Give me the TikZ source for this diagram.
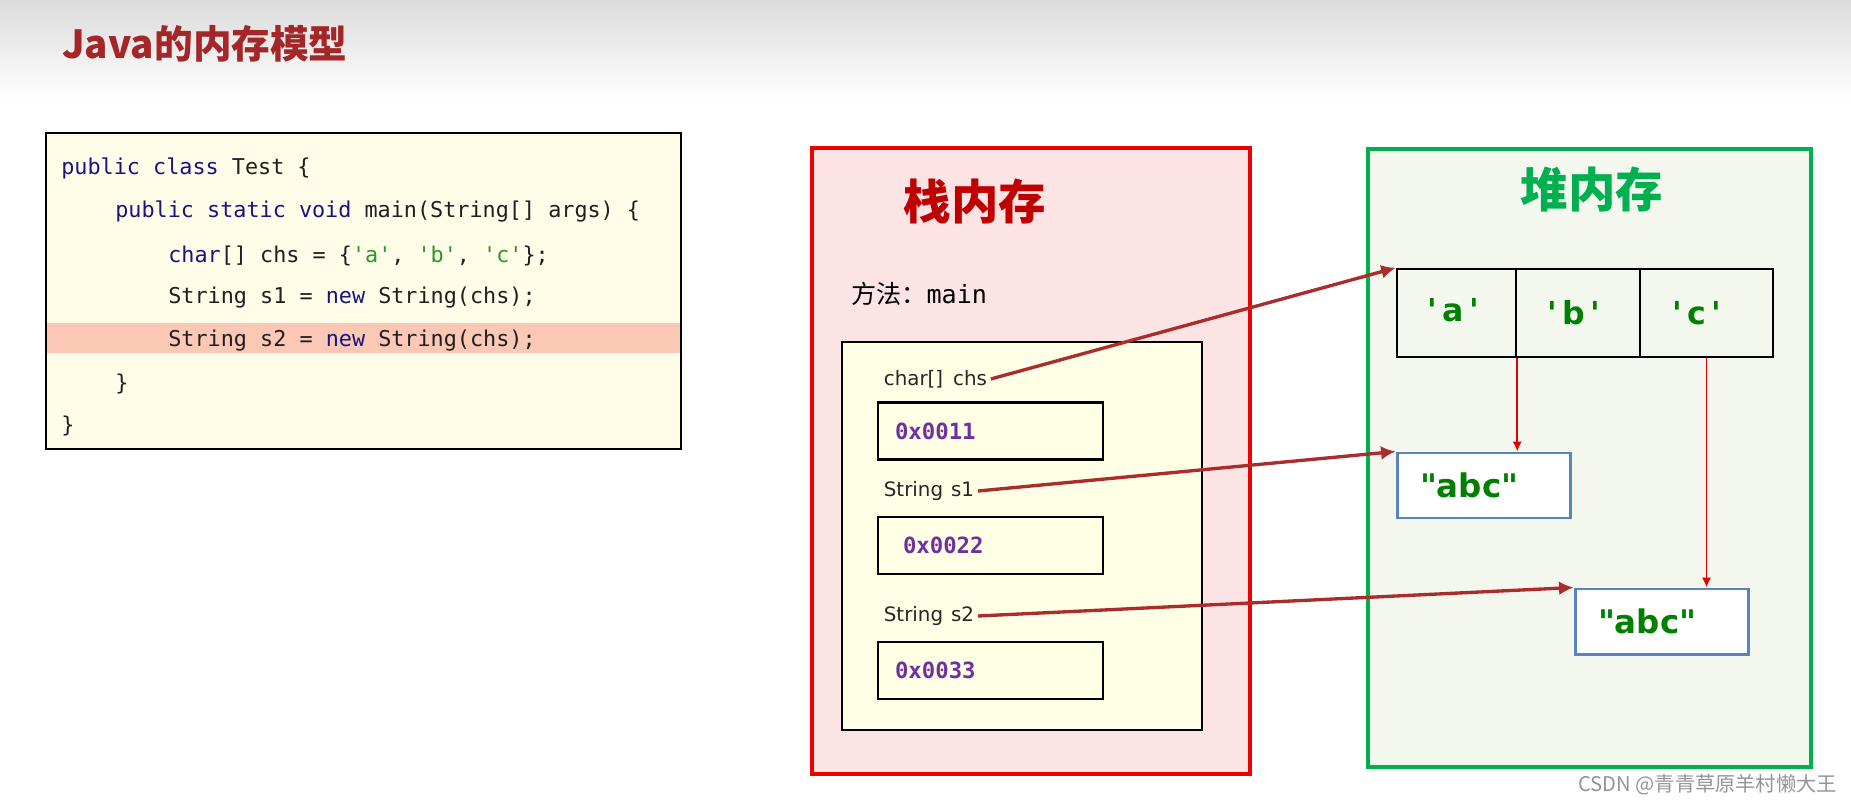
\documentclass[tikz,border=0pt]{standalone}
\usepackage{fontspec}
\setmainfont{DejaVu Sans}
\setmonofont{DejaVu Sans Mono}
\newfontfamily\cjk{Noto Sans CJK SC}
\newfontfamily\plainsans{DejaVu Sans}[Ligatures=TeXOff]
\usetikzlibrary{positioning,arrows.meta,calc}
\definecolor{titlered}{RGB}{165,38,40}
\definecolor{kwblue}{RGB}{22,22,130}
\definecolor{codegreen}{RGB}{40,150,40}
\definecolor{codefill}{RGB}{255,253,232}
\definecolor{hlband}{RGB}{250,200,180}
\definecolor{stackred}{RGB}{236,0,0}
\definecolor{stackfill}{RGB}{253,228,228}
\definecolor{stacktitle}{RGB}{192,0,0}
\definecolor{heapgreen}{RGB}{0,176,80}
\definecolor{heapfill}{RGB}{243,247,238}
\definecolor{framefill}{RGB}{255,255,230}
\definecolor{valpurple}{RGB}{112,48,160}
\definecolor{chargreen}{RGB}{0,128,0}
\definecolor{boxblue}{RGB}{90,130,190}
\definecolor{arrowbrown}{RGB}{170,44,44}
\definecolor{linkred}{RGB}{228,0,0}
\newcommand{\sqt}{\symbol{39}}
\newcommand{\dqt}{\symbol{34}}
\newcommand{\jkw}[1]{\textcolor{kwblue}{#1}}
\newcommand{\jstr}[1]{\textcolor{codegreen}{#1}}
\tikzset{
  ptrarrow/.style={-{Latex[length=2.9mm,width=2.8mm]}, line width=1.9pt, draw=arrowbrown},
  linkarrow/.style={-{Latex[length=2mm,width=1.9mm]}, line width=1.1pt, draw=linkred},
  codebox/.style={draw, line width=1.1pt, fill=codefill, minimum width=127mm, minimum height=63.2mm},
  codeline/.style={anchor=west, inner sep=0pt, text=black!88, font=\ttfamily\fontsize{12.4}{14}\selectfont},
  membox/.style={line width=2.7pt, minimum height=125mm},
  memtitle/.style={font=\cjk\bfseries\fontsize{27}{30}\selectfont},
  framebox/.style={draw, line width=0.9pt, fill=framefill, minimum width=72mm, minimum height=77.6mm},
  varlabel/.style={anchor=west, inner sep=2pt, text=black!85, font=\fontsize{11.3}{13}\selectfont},
  valbox/.style={draw, line width=1.6pt, fill=framefill, text width=38.2mm, inner xsep=3.4mm, minimum height=11.4mm, align=left, text=valpurple, font=\ttfamily\bfseries\fontsize{12.7}{14}\selectfont},
  cellbox/.style={draw, line width=1.4pt, minimum height=17.6mm, text=chargreen, font=\plainsans\bfseries\fontsize{18}{20}\selectfont},
  strbox/.style={draw=boxblue, line width=1.7pt, fill=white, minimum width=34.6mm, minimum height=13mm, text width=25.4mm, inner xsep=4.6mm, align=left, text=chargreen, font=\plainsans\bfseries\fontsize{18.5}{20}\selectfont}
}

\begin{document}
\begin{tikzpicture}[x=0.2mm, y=-0.2mm]
  \useasboundingbox (0,0) rectangle (1851,805);
  % header band and title
  \shade[top color=black!14, bottom color=white] (0,0) rectangle (1851,100);
  \node[anchor=west, text=titlered, font=\cjk\bfseries\fontsize{22}{25}\selectfont] (title) at (56,44) {Java的内存模型};

  % source code
  \node[codebox] (code) at (363.5,291) {};
  \node[fill=hlband, inner sep=0pt, minimum width=126.6mm, minimum height=6mm] (hl) at (363.5,338) {};
  \node[codeline] (c1) at (61,168) {\jkw{public class} Test \{};
  \node[codeline] (c2) at (115,212) {\jkw{public static void} main(String[] args) \{};
  \node[codeline] (c3) at (168,256) {\jkw{char}[] chs = \{\jstr{\sqt a\sqt}, \jstr{\sqt b\sqt}, \jstr{\sqt c\sqt}\};};
  \node[codeline] (c4) at (168,298) {String s1 = \jkw{new} String(chs);};
  \node[codeline] (c5) at (168,341) {String s2 = \jkw{new} String(chs);};
  \node[codeline] (c6) at (115,384) {\}};
  \node[codeline] (c7) at (61,426) {\}};

  % stack memory
  \node[membox, draw=stackred, fill=stackfill, minimum width=87.6mm, minimum height=125.2mm] (stack) at (1031,461) {};
  \node[memtitle, text=stacktitle] (stacktitle) at (975,201) {栈内存};
  \node[anchor=west, font=\fontsize{14.3}{16}\selectfont] (method) at (845,294) {{\cjk 方法：}\texttt{main}};
  \node[framebox] (frame) at (1022,536) {};
  \node[varlabel] (lchs) at (880,379) {char[]\hspace{0.5em}chs};
  \node[valbox] (v1) at (990.5,431) {0x0011};
  \node[varlabel] (ls1) at (880,491) {String\hspace{0.4em}s1};
  \node[valbox] (v2) at (990.5,545.5) {\hspace{1.6mm}0x0022};
  \node[varlabel] (ls2) at (880,616) {String\hspace{0.4em}s2};
  \node[valbox] (v3) at (990.5,670.5) {0x0033};

  % heap memory
  \node[membox, draw=heapgreen, fill=heapfill, minimum width=88.6mm, minimum height=123.6mm] (heap) at (1589.5,458) {};
  \node[memtitle, text=heapgreen] (heaptitle) at (1592,189) {堆内存};
  \node[cellbox, minimum width=23.8mm] (ca) at (1456.5,313) {\raisebox{1.2mm}{\sqt\,a\,\sqt}\kern1.2mm};
  \node[cellbox, minimum width=24.8mm] (cb) at (1578,313) {\sqt\,b\,\sqt\kern1.6mm};
  \node[cellbox, minimum width=26.6mm] (cc) at (1706.5,313) {\sqt\,c\,\sqt\kern4mm};
  \node[strbox] (abc1) at (1483.5,485.5) {\dqt abc\dqt};
  \node[strbox] (abc2) at (1661.5,621.5) {\dqt abc\dqt};

  % references
  \draw[ptrarrow] (lchs.east) -- (ca.north west);
  \draw[ptrarrow] (ls1.east) -- (abc1.north west);
  \draw[ptrarrow] (ls2.east) -- (abc2.north west);
  \draw[linkarrow] (ca.south east) -- (ca.south east |- abc1.north);
  \draw[linkarrow] (cc.south) -- (cc.south |- abc2.north);

  \node[anchor=east, text=black!42, font=\cjk\fontsize{11.5}{13}\selectfont] (mark) at (1843,785) {CSDN @青青草原羊村懒大王};
\end{tikzpicture}
\end{document}
